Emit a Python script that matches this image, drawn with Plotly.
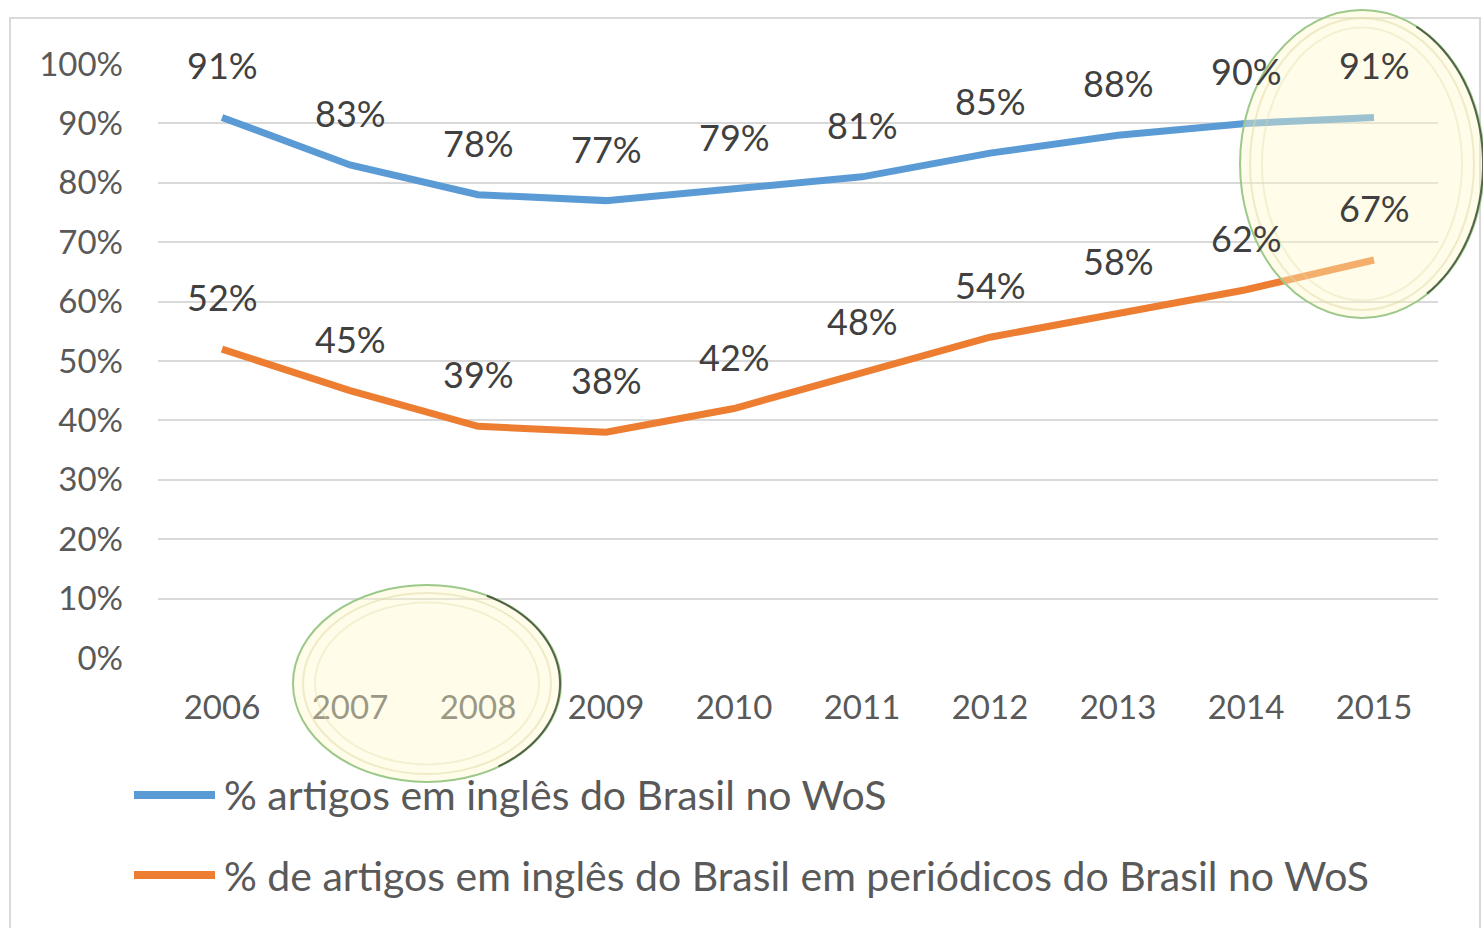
import numpy as np
import plotly.graph_objects as go

years = [2006, 2007, 2008, 2009, 2010, 2011, 2012, 2013, 2014, 2015]
en_wos = [91, 83, 78, 77, 79, 81, 85, 88, 90, 91]
en_br_journals = [52, 45, 39, 38, 42, 48, 54, 58, 62, 67]
series_names = ["% artigos em inglês do Brasil no WoS",
                "% de artigos em inglês do Brasil em periódicos do Brasil no WoS"]
y_ticks = [0, 10, 20, 30, 40, 50, 60, 70, 80, 90, 100]
y_tick_labels = [f"{v}%" for v in y_ticks]

W, H = 1483, 928
PL, PR, PT, PB = 158, 1438, 64, 658   # plot area in pixels
FONT = "Lato, Carlito, Calibri, sans-serif"
BLUE = "#5B9BD5"
ORANGE = "#ED7D31"

fig = go.Figure()
fig.add_trace(go.Scatter(x=years, y=en_wos, mode="lines", name=series_names[0],
                         line=dict(color=BLUE, width=7), showlegend=False))
fig.add_trace(go.Scatter(x=years, y=en_br_journals, mode="lines", name=series_names[1],
                         line=dict(color=ORANGE, width=7), showlegend=False))

annotations = []
for s in (en_wos, en_br_journals):
    for x, v in zip(years, s):
        annotations.append(dict(x=x, y=v, xref="x", yref="y", text=f"{v}%",
                                showarrow=False, yshift=52,
                                font=dict(family=FONT, size=36, color="#404040")))

def px(x, y):
    """pixel -> paper (plot-area) fraction"""
    return (x - PL) / (PR - PL), (PB - y) / (PB - PT)

shapes = []
# legend drawn manually
for (ly, col, name) in [(795, BLUE, series_names[0]), (875, ORANGE, series_names[1])]:
    x0, y0 = px(134, ly)
    x1, _ = px(215, ly)
    shapes.append(dict(type="line", xref="paper", yref="paper", x0=x0, x1=x1, y0=y0, y1=y0,
                       line=dict(color=col, width=8)))
    tx, ty = px(222, ly)
    annotations.append(dict(x=tx, y=ty, xref="paper", yref="paper", text=name,
                            showarrow=False, xanchor="left", yanchor="middle",
                            font=dict(family=FONT, size=41, color="#595959")))

# chart border
bx0, by0 = px(10, 18)
bx1, by1 = px(1480, 945)
shapes.append(dict(type="rect", xref="paper", yref="paper", x0=bx0, y0=by1, x1=bx1, y1=by0,
                   line=dict(color="#d9d9d9", width=2), layer="below"))

def ellipse(x0, y0, x1, y1):
    a, b = px(x0, y1), px(x1, y0)
    res = [dict(type="circle", xref="paper", yref="paper", x0=a[0], y0=a[1], x1=b[0], y1=b[1],
                fillcolor="rgba(255,250,200,0.4)", line=dict(color="#9cc98a", width=2),
                layer="above")]
    for inset, alpha in [(10, 0.5), (22, 0.35)]:
        a2, b2 = px(x0 + inset, y1 - inset * 0.8), px(x1 - inset, y0 + inset * 0.8)
        res.append(dict(type="circle", xref="paper", yref="paper", x0=a2[0], y0=a2[1],
                        x1=b2[0], y1=b2[1], fillcolor="rgba(0,0,0,0)",
                        line=dict(color=f"rgba(225,215,165,{alpha})", width=2), layer="above"))
    cx, cy = (x0 + x1) / 2, (y0 + y1) / 2
    rx, ry = (x1 - x0) / 2, (y1 - y0) / 2
    t = np.linspace(-1.1, 1.0, 40)
    pts = [px(cx + rx * np.cos(tt) - 1, cy + ry * np.sin(tt)) for tt in t]
    path = "M " + " L ".join(f"{p[0]:.5f},{p[1]:.5f}" for p in pts)
    res.append(dict(type="path", xref="paper", yref="paper", path=path,
                    line=dict(color="rgba(50,60,40,0.75)", width=2), layer="above"))
    return res

shapes += ellipse(1240, 10, 1484, 318)
shapes += ellipse(293, 585, 561, 782)

fig.update_layout(
    width=W, height=H,
    margin=dict(l=PL, r=W - PR, t=PT, b=H - PB),
    plot_bgcolor="white", paper_bgcolor="white",
    font=dict(family=FONT, size=33, color="#595959"),
    xaxis=dict(range=[2005.5, 2015.5], tickvals=years, ticktext=[str(y) for y in years],
               showgrid=False, zeroline=False, showline=False, ticks="",
               ticklabelstandoff=27, tickfont=dict(size=33, color="#595959")),
    yaxis=dict(range=[0, 100], tickvals=y_ticks, ticktext=y_tick_labels,
               showgrid=True, gridcolor="#d9d9d9", gridwidth=2, zeroline=False,
               showline=False, ticks="", ticklabelstandoff=34,
               tickfont=dict(size=33, color="#595959")),
    annotations=annotations,
    shapes=shapes,
    showlegend=False,
)

fig.write_html("out.html", config={"displayModeBar": False},
               post_script="document.body.style.margin='0';document.body.style.overflow='hidden';")
